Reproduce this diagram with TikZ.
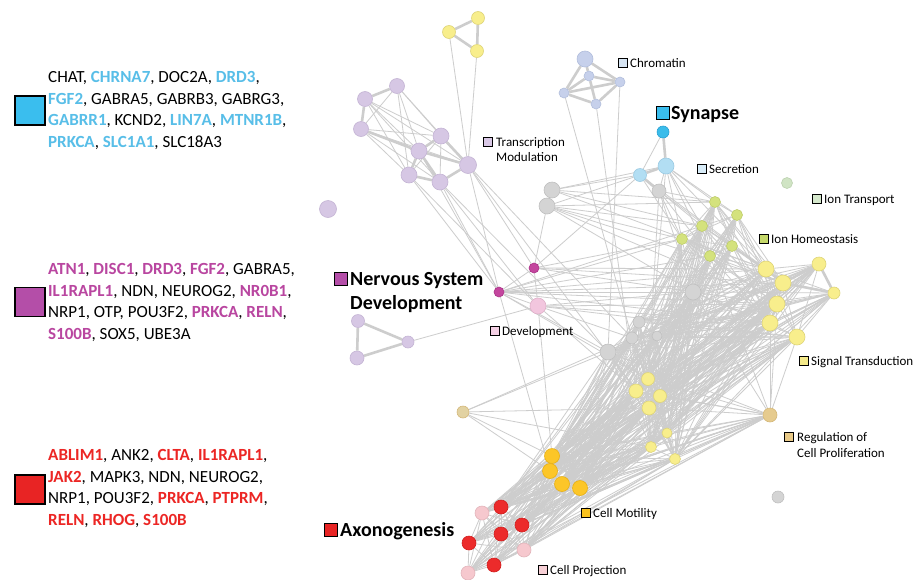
\documentclass[tikz,border=0pt]{standalone}
\usepackage{fontspec}
\setmainfont{Carlito}
\usetikzlibrary{backgrounds}
\definecolor{edgec}{RGB}{205,205,205}
\definecolor{txtC}{RGB}{88,190,232}
\definecolor{txtM}{RGB}{185,70,160}
\definecolor{txtR}{RGB}{236,38,36}
\definecolor{sqC}{RGB}{58,190,238}
\definecolor{sqM}{RGB}{180,78,168}
\definecolor{sqR}{RGB}{232,36,36}
\definecolor{cYel}{RGB}{248,238,140}\definecolor{cYelD}{RGB}{222,212,120}
\definecolor{cLav}{RGB}{214,199,228}\definecolor{cLavD}{RGB}{196,180,212}
\definecolor{cChr}{RGB}{198,208,235}\definecolor{cChrD}{RGB}{178,190,220}
\definecolor{cSyn}{RGB}{58,188,234}\definecolor{cSynD}{RGB}{40,160,210}
\definecolor{cLB}{RGB}{178,222,243}\definecolor{cLBD}{RGB}{155,202,226}
\definecolor{cGry}{RGB}{212,212,212}\definecolor{cGryD}{RGB}{192,192,192}
\definecolor{cGrn}{RGB}{212,226,125}\definecolor{cGrnD}{RGB}{190,205,105}
\definecolor{cPG}{RGB}{208,228,196}\definecolor{cPGD}{RGB}{188,210,176}
\definecolor{cMag}{RGB}{196,70,158}\definecolor{cMagD}{RGB}{170,50,135}
\definecolor{cPnk}{RGB}{242,198,222}\definecolor{cPnkD}{RGB}{222,176,200}
\definecolor{cTan}{RGB}{230,203,142}\definecolor{cTanD}{RGB}{212,184,122}
\definecolor{cTan2}{RGB}{226,210,162}
\definecolor{cOra}{RGB}{252,198,40}\definecolor{cOraD}{RGB}{232,176,20}
\definecolor{cRed}{RGB}{236,43,43}\definecolor{cRedD}{RGB}{210,30,30}
\definecolor{cLP}{RGB}{246,200,206}\definecolor{cLPD}{RGB}{226,180,186}
\definecolor{lChr}{RGB}{214,228,242}
\definecolor{lSec}{RGB}{216,236,248}
\definecolor{lIT}{RGB}{213,232,204}
\definecolor{lIH}{RGB}{197,216,106}
\definecolor{lTM}{RGB}{217,200,230}
\definecolor{lDev}{RGB}{244,208,228}
\definecolor{lSig}{RGB}{245,234,138}
\definecolor{lReg}{RGB}{232,201,135}
\definecolor{lMot}{RGB}{249,194,31}
\definecolor{lPro}{RGB}{247,208,214}
\newcommand{\gC}[1]{\textbf{\color{txtC}#1}}
\newcommand{\gM}[1]{\textbf{\color{txtM}#1}}
\newcommand{\gR}[1]{\textbf{\color{txtR}#1}}
\begin{document}
\begin{tikzpicture}[x=1pt,y=-1pt,
  nd/.style={circle,inner sep=0pt,line width=0.6pt},
  yel/.style={nd,fill=cYel,draw=cYelD},
  lav/.style={nd,fill=cLav,draw=cLavD},
  chr/.style={nd,fill=cChr,draw=cChrD},
  syn/.style={nd,fill=cSyn,draw=cSynD},
  lbl/.style={nd,fill=cLB,draw=cLBD},
  gry/.style={nd,fill=cGry,draw=cGryD},
  grn/.style={nd,fill=cGrn,draw=cGrnD},
  pgr/.style={nd,fill=cPG,draw=cPGD},
  mag/.style={nd,fill=cMag,draw=cMagD},
  pnk/.style={nd,fill=cPnk,draw=cPnkD},
  tan/.style={nd,fill=cTan,draw=cTanD},
  ora/.style={nd,fill=cOra,draw=cOraD},
  red/.style={nd,fill=cRed,draw=cRedD},
  lpk/.style={nd,fill=cLP,draw=cLPD},
  edge/.style={draw=edgec,line width=0.8pt},
  thk/.style={draw=edgec,line width=2.6pt},
  sqs/.style={draw=black,line width=1.2pt,minimum size=8.5pt,inner sep=0pt},
  sqm/.style={draw=black,line width=1.3pt,minimum size=13pt,inner sep=0pt},
  sqb/.style={draw=black,line width=1.3pt,minimum width=30pt,minimum height=29pt,inner sep=0pt},
  labs/.style={anchor=base west,inner sep=0pt,font=\fontsize{13}{15}\selectfont},
  labb/.style={anchor=base west,inner sep=0pt,font=\fontsize{20}{24}\selectfont\bfseries},
  genes/.style={anchor=base west,inner sep=0pt,font=\fontsize{17}{21}\selectfont}
]
\useasboundingbox (0,0) rectangle (913,579);

% ---- nodes ----
\foreach \n/\x/\y/\s in {y1/449/32/13,y2/478/18/13,y3/477/51/13}
  {\node[yel,minimum size=\s] (\n) at (\x,\y) {};}
\foreach \n/\x/\y/\s in {p1/397/86/15,p2/365/99/15,p3/361/129/15,p4/441/136/16,p5/419/151/16,p6/468/165/17,p7/409/175/16,p8/440/182/16,p9/328/209/17,t1/358/321/13,t2/357/358/14,t3/408/342/12}
  {\node[lav,minimum size=\s] (\n) at (\x,\y) {};}
\foreach \n/\x/\y/\s in {c1/585/59/16,c2/589/76/10,c3/564/93/10,c4/596/104/10,c5/620/82/10}
  {\node[chr,minimum size=\s] (\n) at (\x,\y) {};}
\node[syn,minimum size=12] (s1) at (663,132) {};
\node[lbl,minimum size=16] (s2) at (666,166) {};
\node[lbl,minimum size=13] (s3) at (640,175) {};
\foreach \n/\x/\y/\s in {g1/659/191/14,g2/552/190/16,g3/547/206/16,g4/693/292/16,g5/639/322/12,g6/632/338/12,g7/657/336/10,g8/608/352/16,g9/778/497/12}
  {\node[gry,minimum size=\s] (\n) at (\x,\y) {};}
\node[pgr,minimum size=11] (e0) at (787,183) {};
\foreach \n/\x/\y in {e1/715/202,e2/737/215,e3/702/226,e4/682/239,e5/732/246,e6/710/256}
  {\node[grn,minimum size=11] (\n) at (\x,\y) {};}
\node[mag,minimum size=10] (m1) at (534,268) {};
\node[mag,minimum size=10] (m2) at (499,292) {};
\node[pnk,minimum size=16] (d1) at (538,306) {};
\foreach \n/\x/\y/\s in {q1/766/269/16,q2/819/264/14,q3/783/283/16,q4/834/293/12,q5/777/304/16,q6/770/323/16,q7/797/337/16,r1/648/379/13,r2/636/391/14,r3/660/396/13,r4/649/408/14,r5/667/433/10,r6/651/447/11,r7/675/459/11}
  {\node[yel,minimum size=\s] (\n) at (\x,\y) {};}
\node[tan,minimum size=14] (n1) at (770,415) {};
\node[nd,fill=cTan2,draw=cTanD,minimum size=12] (n2) at (463,412) {};
\foreach \n/\x/\y in {o1/552/456,o2/550/471,o3/562/484,o4/580/488}
  {\node[ora,minimum size=15] (\n) at (\x,\y) {};}
\foreach \n/\x/\y in {a1/501/507,a2/522/525,a3/501/534,a4/469/543,a5/494/565}
  {\node[red,minimum size=14] (\n) at (\x,\y) {};}
\foreach \n/\x/\y in {k1/482/513,k2/524/550,k3/468/573}
  {\node[lpk,minimum size=14] (\n) at (\x,\y) {};}

% ---- edges ----
\begin{pgfonlayer}{background}
\fill[white] (0,0) rectangle (913,579);
\foreach \a/\b in {y1/y2,y1/y3,y2/y3,p1/p2,p2/p3,p4/p5,p5/p7,p7/p8,p5/p8,p4/p6,p6/p8,p3/p5,p5/p6,c1/c2,c1/c3,c1/c5,c2/c3,c2/c5,c3/c5,c3/c4,c4/c5,c2/c4,t1/t2,t1/t3,t2/t3,s1/s2,s2/s3,s3/g1,g2/g3,q2/q3,q2/q4,q3/q4,q1/q3,q5/q6}
  {\draw[thk] (\a) -- (\b);}
\foreach \a/\b in {p1/p3,p1/p4,p1/p5,p1/p6,p2/p4,p2/p5,p2/p7,p3/p7,p3/p8,p3/p4,p2/p8,p1/p7,p4/p7,p4/p8,p3/p6,p2/p6,
  y1/p6,y3/p6,p5/m2,p6/m2,p7/m2,p8/m2,p6/m1,p8/g8,p6/r2,p8/d1,p7/d1,p6/g6,
  c3/g6,c4/r2,c5/g8,
  s1/s3,s2/e1,s2/e3,s2/e4,s2/e6,s2/g1,s2/r1,s2/q1,s2/e2,s3/g2,s3/g3,s3/m1,s3/e4,s3/q1,
  g1/e1,g1/e3,g1/e4,g1/g4,g1/r1,g1/e6,g1/q3,
  g2/e1,g2/s2,g2/q1,g2/e3,g3/e4,g3/e3,g3/q3,g3/m1,g3/g4,g3/e1,g3/q5,
  m1/m2,m1/d1,m1/e4,m1/q1,m1/g4,m1/q3,
  m2/d1,m2/g4,m2/q1,m2/q3,m2/q5,m2/q6,m2/e4,m2/e6,m2/r1,m2/o2,m2/g8,m2/e3,
  d1/g4,d1/q5,d1/q6,d1/t3,d1/o1,d1/r2,d1/g6,d1/q7,
  n2/o1,n2/o2,n2/g8,n2/r4,n2/r6,n2/g6,
  n1/q6,n1/q7,n1/g8,n1/g4,n1/a1,n1/e6,n1/q5,
  g4/g5,g4/g7,g5/g6,g5/g7,g6/g7,g6/g8,g5/g8,g4/e4,g4/e6,g4/e5}
  {\draw[edge] (\a) -- (\b);}
\foreach \a [count=\i] in {e1,e2,e3,e4,e5,e6}
  {\foreach \b [count=\j] in {e1,e2,e3,e4,e5,e6}
    {\ifnum\i<\j \draw[edge] (\a) -- (\b); \fi}}
\foreach \a [count=\i] in {q1,q2,q3,q4,q5,q6,q7}
  {\foreach \b [count=\j] in {q1,q2,q3,q4,q5,q6,q7}
    {\ifnum\i<\j \draw[edge] (\a) -- (\b); \fi}}
\foreach \a [count=\i] in {r1,r2,r3,r4,r5,r6,r7}
  {\foreach \b [count=\j] in {r1,r2,r3,r4,r5,r6,r7}
    {\ifnum\i<\j \draw[edge] (\a) -- (\b); \fi}}
\foreach \a [count=\i] in {a1,a2,a3,a4,a5,k1,k2,k3}
  {\foreach \b [count=\j] in {a1,a2,a3,a4,a5,k1,k2,k3}
    {\ifnum\i<\j \draw[edge] (\a) -- (\b); \fi}}
\foreach \a [count=\i] in {o1,o2,o3,o4}
  {\foreach \b [count=\j] in {o1,o2,o3,o4}
    {\ifnum\i<\j \draw[edge] (\a) -- (\b); \fi}}
\foreach \a in {e1,e2,e3,e4,e5,e6,g4}
  {\foreach \b in {r1,r2,r3,r4,r5,r6,r7,o1,o2,o3,o4}
    {\draw[edge] (\a) -- (\b);}}
\foreach \a in {e1,e2,e3,e4,e5,e6}
  {\foreach \b in {q1,q3,q5,q6}
    {\draw[edge] (\a) -- (\b);}}
\foreach \a in {g4,g5,g6,g7,g8}
  {\foreach \b in {q1,q2,q3,q4,q5,q6,q7,r1,r2,r3,r4,r5,r6,r7}
    {\draw[edge] (\a) -- (\b);}}
\foreach \a in {g5,g6,g7,g8}
  {\foreach \b in {o1,o2,o3,o4,a1,a2}
    {\draw[edge] (\a) -- (\b);}}
\foreach \a in {q1,q2,q3,q4,q5,q6,q7}
  {\foreach \b in {r1,r2,r3,r4,r5,r6,r7,o1,o2,o3,o4}
    {\draw[edge] (\a) -- (\b);}}
\foreach \a in {q1,q3,q5,q6,q7}
  {\foreach \b in {a1,a2,k1,k2}
    {\draw[edge] (\a) -- (\b);}}
\foreach \a in {r1,r2,r3,r4,r5,r6,r7,n1}
  {\foreach \b in {o1,o2,o3,o4,a1,a2,a3,a4,a5,k1,k2,k3}
    {\draw[edge] (\a) -- (\b);}}
\foreach \b in {r1,r2,r3,r4,r5,r6,r7}
  {\draw[edge] (n1) -- (\b);}
\foreach \a in {o1,o2,o3,o4}
  {\foreach \b in {a1,a2,a3,a4,a5,k1,k2,k3}
    {\draw[edge] (\a) -- (\b);}}
\end{pgfonlayer}

% ---- labels ----
\node[sqs,fill=lChr] (chromSq) at (623,63) {};
\node[labs] (chrom) at (630,67.5) {Chromatin};
\node[sqm,fill=sqC] (synSq) at (663,113) {};
\node[labb] (syn) at (671,119.5) {Synapse};
\node[sqs,fill=lSec] (secSq) at (702,169) {};
\node[labs] (sec) at (709,173.5) {Secretion};
\node[sqs,fill=lIT] (itSq) at (817,199) {};
\node[labs] (it) at (824,203.5) {Ion Transport};
\node[sqs,fill=lIH] (ihSq) at (764,239) {};
\node[labs] (ih) at (771,243.5) {Ion Homeostasis};
\node[sqs,fill=lTM] (tmSq) at (488,142) {};
\node[labs] (tm1) at (496,146.5) {Transcription};
\node[labs] (tm2) at (496,161.5) {Modulation};
\node[sqm,fill=sqM] (nsdSq) at (341,279) {};
\node[labb] (nsd1) at (350,285.5) {Nervous System};
\node[labb] (nsd2) at (350,309.5) {Development};
\node[sqs,fill=lDev] (devSq) at (495,331) {};
\node[labs] (dev) at (502,335.5) {Development};
\node[sqs,fill=lSig] (sigSq) at (804,361) {};
\node[labs] (sig) at (811,365.5) {Signal Transduction};
\node[sqs,fill=lReg] (regSq) at (789,437) {};
\node[labs] (reg1) at (797,441.5) {Regulation of};
\node[labs] (reg2) at (797,457.5) {Cell Proliferation};
\node[sqs,fill=lMot] (motSq) at (586,513) {};
\node[labs] (mot) at (593,517.5) {Cell Motility};
\node[sqm,fill=sqR] (axSq) at (331,530) {};
\node[labb] (ax) at (340,536.5) {Axonogenesis};
\node[sqs,fill=lPro] (proSq) at (543,570) {};
\node[labs] (pro) at (550,574.5) {Cell Projection};

% ---- gene lists ----
\node[sqb,fill=sqC] (b1sq) at (30,110.5) {};
\node[genes] (b1l1) at (48,82.5) {CHAT, \gC{CHRNA7}, DOC2A, \gC{DRD3},};
\node[genes] (b1l2) at (48,104) {\gC{FGF2}, GABRA5, GABRB3, GABRG3,};
\node[genes] (b1l3) at (48,125.5) {\gC{GABRR1}, KCND2, \gC{LIN7A}, \gC{MTNR1B},};
\node[genes] (b1l4) at (48,147) {\gC{PRKCA}, \gC{SLC1A1}, SLC18A3};
\node[sqb,fill=sqM] (b2sq) at (30,302) {};
\node[genes] (b2l1) at (48,274.5) {\gM{ATN1}, \gM{DISC1}, \gM{DRD3}, \gM{FGF2}, GABRA5,};
\node[genes] (b2l2) at (48,296) {\gM{IL1RAPL1}, NDN, NEUROG2, \gM{NR0B1},};
\node[genes] (b2l3) at (48,317.5) {NRP1, OTP, POU3F2, \gM{PRKCA}, \gM{RELN},};
\node[genes] (b2l4) at (48,339) {\gM{S100B}, SOX5, UBE3A};
\node[sqb,fill=sqR] (b3sq) at (30,489.5) {};
\node[genes] (b3l1) at (48,460.5) {\gR{ABLIM1}, ANK2, \gR{CLTA}, \gR{IL1RAPL1},};
\node[genes] (b3l2) at (48,482) {\gR{JAK2}, MAPK3, NDN, NEUROG2,};
\node[genes] (b3l3) at (48,503.5) {NRP1, POU3F2, \gR{PRKCA}, \gR{PTPRM},};
\node[genes] (b3l4) at (48,525) {\gR{RELN}, \gR{RHOG}, \gR{S100B}};
\end{tikzpicture}
\end{document}
